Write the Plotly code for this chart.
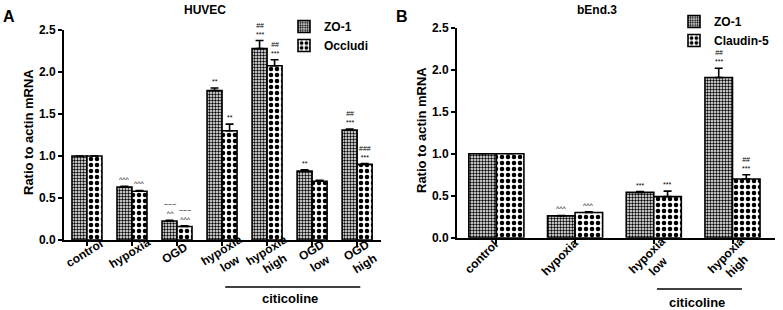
import plotly.graph_objects as go

# ---------------- data ----------------
cats_a = ["control", "hypoxia", "OGD", "hypoxia<br>low", "hypoxia<br>high", "OGD<br>low", "OGD<br>high"]
zo1_a = [1.00, 0.63, 0.226, 1.78, 2.28, 0.82, 1.31]
zo1_a_err = [0.0, 0.01, 0.01, 0.03, 0.095, 0.015, 0.01]
occ_a = [1.00, 0.58, 0.16, 1.30, 2.075, 0.70, 0.90]
occ_a_err = [0.0, 0.01, 0.01, 0.08, 0.07, 0.01, 0.01]
sig_zo1_a = ["", "^^^", "~~~<br>^^", "**", "##<br>***", "**", "##<br>***"]
sig_occ_a = ["", "^^^", "~~~<br>^^^", "**", "##<br>***", "", "###<br>***"]

cats_b = ["control", "hypoxia", "hypoxia<br>low", "hypoxia<br>high"]
zo1_b = [1.00, 0.26, 0.54, 1.91]
zo1_b_err = [0.0, 0.005, 0.01, 0.11]
cld_b = [1.00, 0.30, 0.49, 0.70]
cld_b_err = [0.0, 0.01, 0.065, 0.05]
sig_zo1_b = ["", "^^^", "***", "##<br>***"]
sig_cld_b = ["", "^^^", "***", "##<br>***"]

yticks = [0.0, 0.5, 1.0, 1.5, 2.0, 2.5]

# ---------------- styling ----------------
W, H = 783, 310
FONT = "Arial, Liberation Sans, sans-serif"
fine = dict(shape=".", size=3, solidity=0.5, fgcolor="black", bgcolor="white", fillmode="replace")
coarse = dict(shape=".", size=6, solidity=0.45, fgcolor="black", bgcolor="white", fillmode="replace")

def px_x(p):
    return p / W

def px_y(p):
    return 1 - p / H

fig = go.Figure()

def add_pair(cats, v1, e1, v2, e2, name1, name2, xa, ya, bw, leg):
    fig.add_trace(go.Bar(
        x=cats, y=v1, name=name1, xaxis=xa, yaxis=ya, width=bw, offset=-bw,
        marker=dict(color="white", pattern=fine, line=dict(color="black", width=1.6)),
        error_y=dict(type="data", array=e1, arrayminus=[0] * len(e1), symmetric=False,
                     color="black", thickness=1.6, width=4),
        legend=leg))
    fig.add_trace(go.Bar(
        x=cats, y=v2, name=name2, xaxis=xa, yaxis=ya, width=bw, offset=0,
        marker=dict(color="white", pattern=coarse, line=dict(color="black", width=1.6)),
        error_y=dict(type="data", array=e2, arrayminus=[0] * len(e2), symmetric=False,
                     color="black", thickness=1.6, width=4),
        legend=leg))

add_pair(cats_a, zo1_a, zo1_a_err, occ_a, occ_a_err, "ZO-1", "Occludi", "x", "y", 0.333, "legend")
add_pair(cats_b, zo1_b, zo1_b_err, cld_b, cld_b_err, "ZO-1", "Claudin-5", "x2", "y2", 0.35, "legend2")

axis_font = dict(family=FONT, size=12, color="black", weight="bold")
common_x = dict(type="category", showline=True, linecolor="black", linewidth=2,
                ticks="outside", ticklen=4, tickwidth=1.5, tickcolor="black",
                showticklabels=False, showgrid=False, zeroline=False, fixedrange=True,
                automargin=False)
common_y = dict(range=[0, 2.5], tickvals=yticks, ticktext=[f"{v:.1f}" for v in yticks],
                showline=True, linecolor="black", linewidth=2, ticks="outside",
                ticklen=4, tickwidth=1.5, tickcolor="black", tickfont=axis_font,
                showgrid=False, zeroline=False, automargin=False)

leg_font = dict(family=FONT, size=12, color="black", weight="bold")
fig.update_layout(
    width=W, height=H, autosize=False,
    margin=dict(l=0, r=0, t=0, b=0, autoexpand=False),
    paper_bgcolor="white", plot_bgcolor="white",
    barmode="overlay",
    xaxis=dict(common_x, domain=[px_x(64), px_x(381)], range=[-0.51, 6.53], anchor="y"),
    yaxis=dict(common_y, domain=[px_y(240), px_y(30)], anchor="x"),
    xaxis2=dict(common_x, domain=[px_x(457), px_x(775)], range=[-0.50, 3.54], anchor="y2"),
    yaxis2=dict(common_y, domain=[px_y(237.7), px_y(28)], anchor="x2"),
    showlegend=True,
    legend=dict(x=px_x(284), y=px_y(12), xanchor="left", yanchor="top", font=leg_font,
                xref="container", yref="container",
                bgcolor="rgba(0,0,0,0)", tracegroupgap=0, itemwidth=30),
    legend2=dict(x=px_x(674), y=px_y(7), xanchor="left", yanchor="top", font=leg_font,
                 xref="container", yref="container",
                 bgcolor="rgba(0,0,0,0)", tracegroupgap=0, itemwidth=30),
)

# rotated category labels (centre-aligned multi-line, like the original)
def add_cat_labels(cats, xa, angle, single, double):
    for c in cats:
        dx, yc = double if "<br>" in c else single
        fig.add_annotation(x=c, y=px_y(yc), xref=xa, yref="paper", text=c, showarrow=False,
                           xshift=dx, textangle=angle, xanchor="center", yanchor="middle",
                           align="center", font=axis_font)

add_cat_labels(cats_a, "x", -32, (-2, 253), (4, 257))
add_cat_labels(cats_b, "x2", -45, (-15, 257), (-1, 261))

# significance marks
def add_sigs(cats, vals, errs, sigs, xa, ya, shift):
    for c, v, e, s in zip(cats, vals, errs, sigs):
        if not s:
            continue
        fig.add_annotation(x=c, y=v + e, xref=xa, yref=ya, text=s, showarrow=False,
                           xshift=shift, yshift=1, yanchor="bottom",
                           font=dict(family=FONT, size=7, color="black"))

add_sigs(cats_a, zo1_a, zo1_a_err, sig_zo1_a, "x", "y", -7.5)
add_sigs(cats_a, occ_a, occ_a_err, sig_occ_a, "x", "y", 7.5)
add_sigs(cats_b, zo1_b, zo1_b_err, sig_zo1_b, "x2", "y2", -13.7)
add_sigs(cats_b, cld_b, cld_b_err, sig_cld_b, "x2", "y2", 13.7)

def ann_paper(x, y, text, size=12, angle=0):
    fig.add_annotation(x=px_x(x), y=px_y(y), xref="paper", yref="paper", text=text,
                       showarrow=False, textangle=angle, xanchor="center", yanchor="middle",
                       font=dict(family=FONT, size=size, color="black", weight="bold"))

ann_paper(9, 17, "A", size=16)
ann_paper(402, 17, "B", size=16)
ann_paper(205, 10, "HUVEC", size=12)
ann_paper(597, 10, "bEnd.3", size=12)
ann_paper(28, 132, "Ratio to actin mRNA", size=13, angle=-90)
ann_paper(421, 130, "Ratio to actin mRNA", size=13, angle=-90)
ann_paper(290, 298, "citicoline", size=13)
ann_paper(697, 302, "citicoline", size=13)

# citicoline bracket lines
ia0, ia1 = cats_a.index("hypoxia<br>low"), cats_a.index("OGD<br>high")
fig.add_shape(type="line", xref="x", yref="paper", x0=ia0 + 0.07, x1=ia1 + 0.07,
              y0=px_y(287), y1=px_y(287), line=dict(color="black", width=1.5))
ib0, ib1 = cats_b.index("hypoxia<br>low"), cats_b.index("hypoxia<br>high")
fig.add_shape(type="line", xref="x2", yref="paper", x0=ib0 + 0.04, x1=ib1 + 0.12,
              y0=px_y(289), y1=px_y(289), line=dict(color="black", width=1.5))

fig.write_html("out.html", config={"displayModeBar": False},
               post_script="document.body.style.margin='0';document.body.style.overflow='hidden';")
